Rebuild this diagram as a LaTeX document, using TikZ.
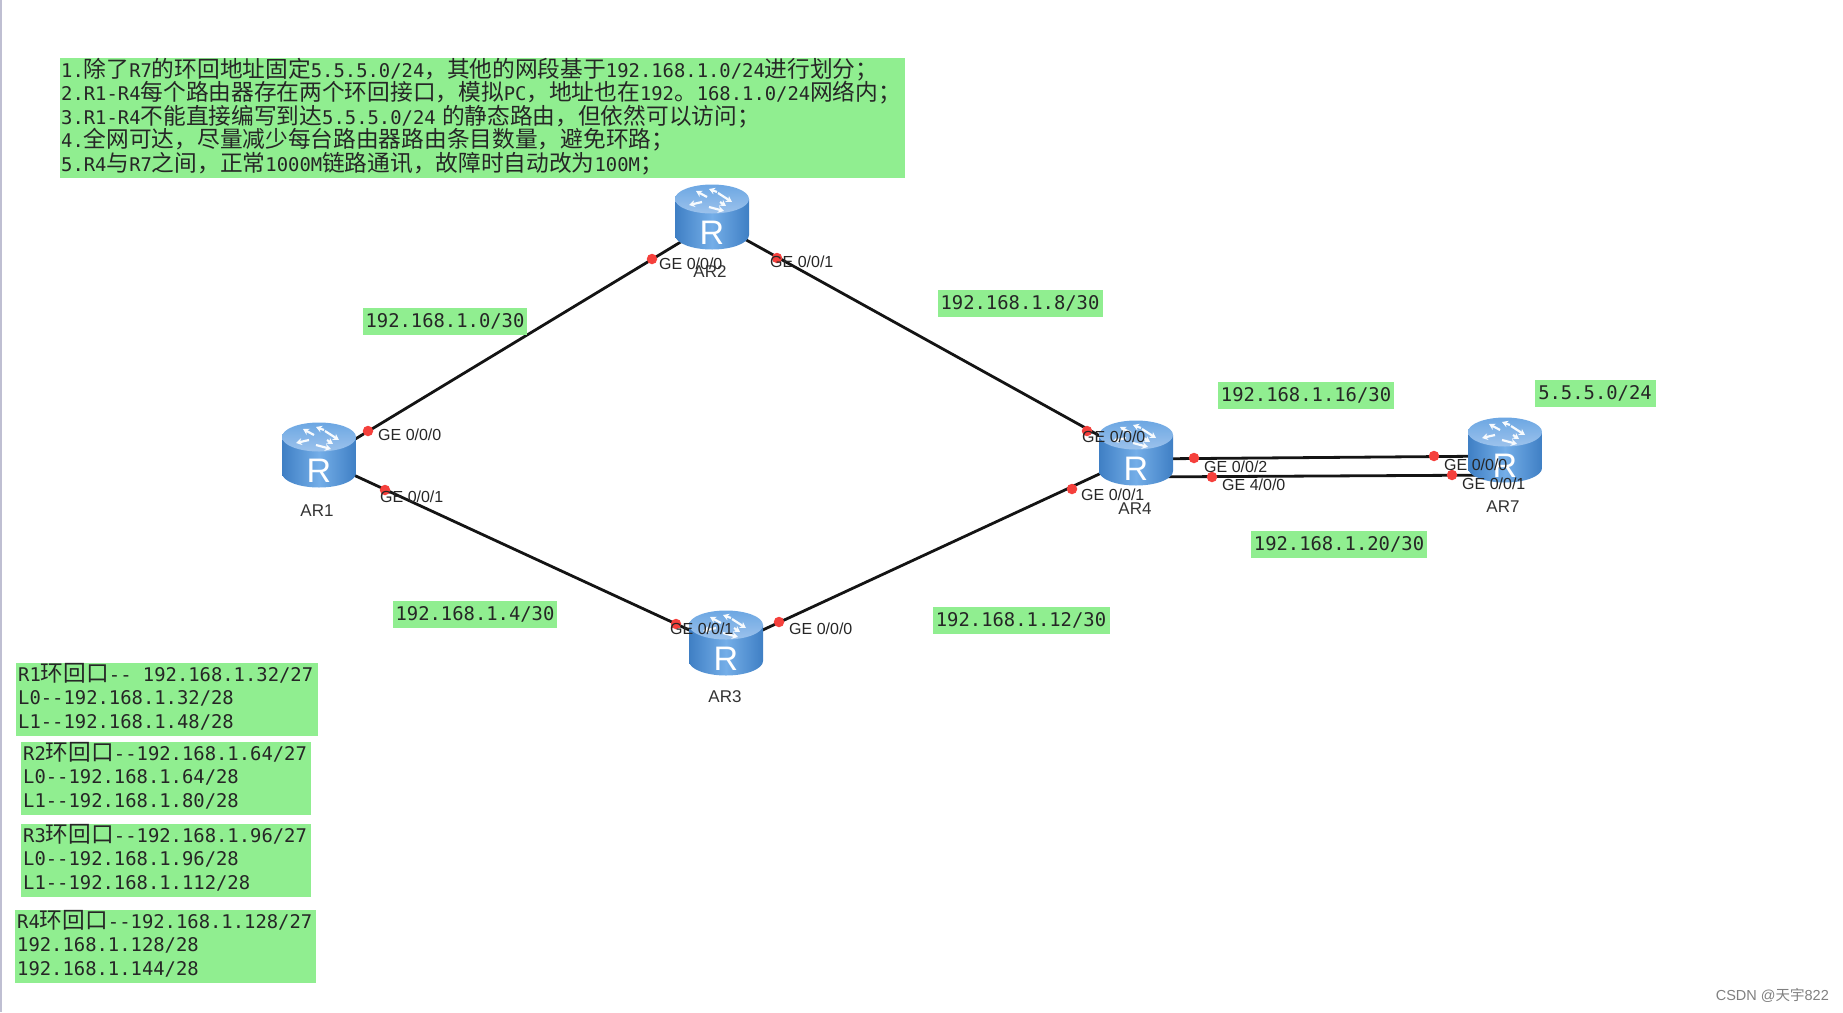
\documentclass[tikz,border=0pt]{standalone}
\usepackage{fontspec}
\usetikzlibrary{arrows.meta, backgrounds}
\newfontfamily\monofont{DejaVu Sans Mono}
\newfontfamily\armfont{Liberation Sans}
\newfontfamily\cjk{Noto Sans CJK SC}
\newcommand{\zh}[1]{{\cjk\fontsize{22.7}{23.4}\selectfont #1}}
\definecolor{notegreen}{HTML}{90EE90}
\definecolor{linkred}{HTML}{F5403C}
\definecolor{routertop}{HTML}{9CC2EC}
\definecolor{routermid}{HTML}{74AEE8}
\definecolor{routerdark}{HTML}{3F7FC4}
\tikzset{
arrowmark/.style={white!92!routertop,line width=2.2pt,-{Stealth[length=6pt,width=7pt]}},
router/.style={inner sep=0pt,minimum width=74pt,minimum height=66pt,label={[yshift=-16pt,inner sep=0pt,text=white,font=\armfont\fontsize{34}{34}\selectfont]center:R},path picture={
  \begin{scope}[shift={(path picture bounding box.center)},x=1pt,y=1pt]
  \shade[left color=routerdark,right color=routerdark,middle color=routermid] (-37,18) -- (-37,-18) arc[start angle=180,end angle=360,x radius=37,y radius=14.5] -- (37,18) -- cycle;
  \shade[top color=routermid!85!routerdark,bottom color=routertop] (0,18) ellipse[x radius=37,y radius=14.5];
  \draw[arrowmark] (-5,20) -- (-16,26);
  \draw[arrowmark] (-10,15) -- (-23,12);
  \draw[arrowmark] (5,25) -- (-3,28);
  \draw[arrowmark] (6,24) -- (20,15);
  \draw[arrowmark] (-3,10) -- (12,6);
  \draw[arrowmark] (8,15) -- (14,11);
  \end{scope}}},
portdot/.style={circle,fill=linkred,inner sep=0pt,minimum size=10.5pt},
portlabel/.style={anchor=west,inner sep=0pt,yshift=-1pt,font=\armfont\fontsize{16}{16}\selectfont,text=black!85},
namelabel/.style={inner sep=0pt,yshift=-1pt,font=\armfont\fontsize{17}{17}\selectfont,text=black!80},
link/.style={line width=2.8pt,draw=black!92},
subnet/.style={fill=notegreen,inner sep=0pt,minimum height=27pt,font=\monofont\fontsize{18.85}{20}\selectfont,text=black!85},
notebox/.style={fill=notegreen,anchor=north west,inner sep=0pt,inner xsep=1pt,align=left,font=\monofont\fontsize{18.85}{23.4}\selectfont,text=black!85},
loopbox/.style={notebox,inner xsep=2pt,text depth=54.6pt,minimum height=73pt}}
\begin{document}
\begin{tikzpicture}[x=1pt,y=-1pt]
\useasboundingbox (0,0) rectangle (1843,1012);
\fill[blue!30!black!25] (0,0) rectangle (2,1012);
\node[router] (AR1) at (319,455) {};
\node[router] (AR2) at (712,217) {};
\node[router] (AR3) at (726,643) {};
\node[router] (AR4) at (1136,453) {};
\node[router] (AR7) at (1505,450) {};
\begin{scope}[on background layer]
\draw[link] ([yshift=-6pt]AR1.center) -- ([yshift=-6pt]AR2.center);
\draw[link] ([yshift=-4pt]AR2.center) -- ([yshift=-3pt]AR4.center);
\draw[link] ([yshift=-4pt]AR1.center) -- ([yshift=-4pt]AR3.center);
\draw[link] ([yshift=-4pt]AR3.center) -- ([yshift=-4pt]AR4.center);
\draw[link] ([yshift=-6pt]AR4.center) -- ([yshift=-6pt]AR7.center);
\draw[link] ([yshift=-24pt]AR4.center) -- ([yshift=-25pt]AR7.center);
\end{scope}
\node[portdot] (d1) at (368,431) {};
\node[portdot] (d2) at (385,490) {};
\node[portdot] (d3) at (652,259) {};
\node[portdot] (d4) at (777,258) {};
\node[portdot] (d5) at (676,624) {};
\node[portdot] (d6) at (779,622) {};
\node[portdot] (d7) at (1087,431) {};
\node[portdot] (d8) at (1072,489) {};
\node[portdot] (d9) at (1194,458) {};
\node[portdot] (d10) at (1212,477) {};
\node[portdot] (d11) at (1434,456) {};
\node[portdot] (d12) at (1452,475) {};
\node[portlabel] (p1) at (378,434) {GE 0/0/0};
\node[portlabel] (p2) at (380,496) {GE 0/0/1};
\node[portlabel] (p3) at (659,263) {GE 0/0/0};
\node[portlabel] (p4) at (770,261) {GE 0/0/1};
\node[portlabel] (p5) at (670,628) {GE 0/0/1};
\node[portlabel] (p6) at (789,628) {GE 0/0/0};
\node[portlabel] (p7) at (1082,436) {GE 0/0/0};
\node[portlabel] (p8) at (1081,494) {GE 0/0/1};
\node[portlabel] (p9) at (1204,466) {GE 0/0/2};
\node[portlabel] (p10) at (1222,484) {GE 4/0/0};
\node[portlabel] (p11) at (1444,464) {GE 0/0/0};
\node[portlabel] (p12) at (1462,483) {GE 0/0/1};
\node[namelabel] (n1) at (317,510) {AR1};
\node[namelabel] (n2) at (710,271) {AR2};
\node[namelabel] (n3) at (725,696) {AR3};
\node[namelabel] (n4) at (1135,508) {AR4};
\node[namelabel] (n7) at (1503,506) {AR7};
\node[subnet,minimum width=164pt] (s1) at (445,321) {192.168.1.0/30};
\node[subnet,minimum width=165pt] (s2) at (1020,303) {192.168.1.8/30};
\node[subnet,minimum width=176pt] (s3) at (1306,395) {192.168.1.16/30};
\node[subnet,minimum width=176pt] (s4) at (1339,544) {192.168.1.20/30};
\node[subnet,minimum width=121pt] (s5) at (1595,393) {5.5.5.0/24};
\node[subnet,minimum width=164pt] (s6) at (475,614) {192.168.1.4/30};
\node[subnet,minimum width=177pt] (s7) at (1021,620) {192.168.1.12/30};
\node[notebox,text width=843pt,text depth=100.6pt,minimum height=119pt] (task) at (60,58) {1.\zh{除了}R7\zh{的环回地址固定}5.5.5.0/24\zh{，其他的网段基于}192.168.1.0/24\zh{进行划分；}\\2.R1-R4\zh{每个路由器存在两个环回接口，模拟}PC\zh{，地址也在}192\zh{。}168.1.0/24\zh{网络内；}\\3.R1-R4\zh{不能直接编写到达}5.5.5.0/24 \zh{的静态路由，但依然可以访问；}\\4.\zh{全网可达，尽量减少每台路由器路由条目数量，避免环路；}\\5.R4\zh{与}R7\zh{之间，正常}1000M\zh{链路通讯，故障时自动改为}100M\zh{；}};
\node[loopbox,text width=298pt] (loop1) at (16,663) {R1\zh{环回口}-- \hspace{5pt}192.168.1.32/27\\L0--192.168.1.32/28\\L1--192.168.1.48/28};
\node[loopbox,text width=286pt] (loop2) at (21,742) {R2\zh{环回口}--192.168.1.64/27\\L0--192.168.1.64/28\\L1--192.168.1.80/28};
\node[loopbox,text width=286pt] (loop3) at (21,824) {R3\zh{环回口}--192.168.1.96/27\\L0--192.168.1.96/28\\L1--192.168.1.112/28};
\node[loopbox,text width=297pt] (loop4) at (15,910) {R4\zh{环回口}--192.168.1.128/27\\192.168.1.128/28\\192.168.1.144/28};
\node[anchor=east,inner sep=0pt,text=black!50,font=\armfont\fontsize{14.5}{14.5}\selectfont] (mark) at (1829,995) {CSDN @{\cjk 天宇}822};
\end{tikzpicture}
\end{document}
